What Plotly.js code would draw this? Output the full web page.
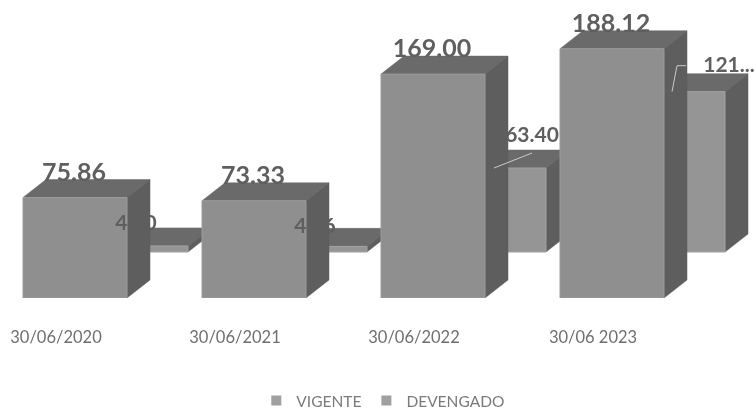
<!DOCTYPE html>
<html><head><meta charset="utf-8">
<script src="https://cdn.plot.ly/plotly-3.0.1.min.js"></script>
<style>html,body{margin:0;padding:0;background:#fff}#c{width:756px;height:414px}#c svg{filter:blur(0.5px)}</style>
</head><body><div id="c"></div>
<script>
const categories = ['30/06/2020','30/06/2021','30/06/2022','30/06 2023'];
const vigente = [75.86,73.33,169.00,188.12];
const devengado = [4.60,4.26,63.40,121.00];
const vigenteLabels = ['75.86','73.33','169.00','188.12'];
const devengadoLabels = ['4.60','4.26','63.40','121...'];

const W=756,H=414,mB=116,baseY=298;
const pxX=179, pxY=1.325;              // px per category, px per value unit
const x0=75/pxX;
const halfW=52/pxX, dX=23/pxX, dY=18/pxY;
const rowX=61/pxX, rowY=46/pxY;        // second row depth shift
const cFront='#8f8f8f',cTop='#6a6a6a',cSide='#5e5e5e',cText='#5f5f5f';

function faces(vals,ox,oy){
  const f={front:[[],[]],top:[[],[]],side:[[],[]]};
  const add=(t,xs,ys)=>{t[0].push(...xs,null);t[1].push(...ys,null);};
  vals.forEach((v,i)=>{
    const l=i+ox-halfW,r=i+ox+halfW,b=oy,t=oy+v;
    add(f.front,[l,r,r,l,l],[b,b,t,t,b]);
    add(f.top,[l,r,r+dX,l+dX,l],[t,t,t+dY,t+dY,t]);
    add(f.side,[r,r+dX,r+dX,r,r],[b,b+dY,t+dY,t,b]);
  });
  return f;
}
function poly(a,color,edge){return {x:a[0],y:a[1],type:'scatter',mode:'lines',fill:'toself',fillcolor:color,
  line:{color:edge||color,width:edge?1:0.5},hoverinfo:'skip',showlegend:false,cliponaxis:false};}
function legendItem(name){return {x:[null],y:[null],type:'scatter',mode:'markers',name:name,
  marker:{symbol:'square',size:10,color:'#a0a0a0'},hoverinfo:'skip',showlegend:true};}

const back=faces(devengado,rowX,rowY), fore=faces(vigente,0,0);
const idx=categories.map((c,i)=>i);

const data=[
  poly(back.top,cTop),poly(back.side,cSide),poly(back.front,'#959595','#a2a2a2'),
  poly(fore.top,cTop),poly(fore.side,cSide),poly(fore.front,cFront,'#9b9b9b'),
  // leader lines for the two moved labels
  {x:[2+61/pxX,2+99/pxX],y:[rowY+devengado[2],rowY+devengado[2]+15/pxY],type:'scatter',mode:'lines',
   line:{color:'#c9c9c9',width:1},hoverinfo:'skip',showlegend:false,cliponaxis:false},
  {x:[3+60/pxX,3+65/pxX,3+74/pxX],y:[rowY+devengado[3],rowY+devengado[3]+26/pxY,rowY+devengado[3]+26/pxY],type:'scatter',mode:'lines',
   line:{color:'#c9c9c9',width:1},hoverinfo:'skip',showlegend:false,cliponaxis:false},
  {x:idx.map(i=>i-1/pxX),y:vigente.map(v=>v+23/pxY),text:vigenteLabels,type:'scatter',mode:'text',
   textposition:'middle center',textfont:{family:'Lato',size:25,color:cText,weight:700},hoverinfo:'skip',showlegend:false,cliponaxis:false},
  {x:idx.map((i)=>i+[61,61,99,117][i]/pxX),
   y:devengado.map((v,i)=>rowY+v+[21,19,31,25][i]/pxY),text:devengadoLabels,type:'scatter',mode:'text',
   textposition:'middle center',textfont:{family:'Lato',size:21,color:cText,weight:700},hoverinfo:'skip',showlegend:false,cliponaxis:false},
  legendItem('VIGENTE'),legendItem('DEVENGADO')
];
const layout={
  width:W,height:H,margin:{l:0,r:0,t:0,b:mB,pad:0,autoexpand:false},
  paper_bgcolor:'#fff',plot_bgcolor:'#fff',showlegend:true,
  font:{family:'Lato',color:'#6f6f6f'},
  xaxis:{range:[-x0,(W-75)/pxX],tickmode:'array',tickvals:idx.map(i=>i-19/pxX),ticktext:categories,
    showgrid:false,zeroline:false,showline:false,ticks:'',ticklabelstandoff:27,tickfont:{family:'Lato',size:16.5,color:'#6f6f6f'},fixedrange:true},
  yaxis:{range:[0,baseY/pxY],visible:false,fixedrange:true},
  legend:{orientation:'h',x:0.507,xanchor:'center',y:(baseY-384)/baseY,yanchor:'top',
    font:{family:'Lato',size:15.5,color:'#7a7a7a'},bgcolor:'rgba(0,0,0,0)'}
};
Plotly.newPlot('c',data,layout,{displayModeBar:false,responsive:false});
</script></body></html>
